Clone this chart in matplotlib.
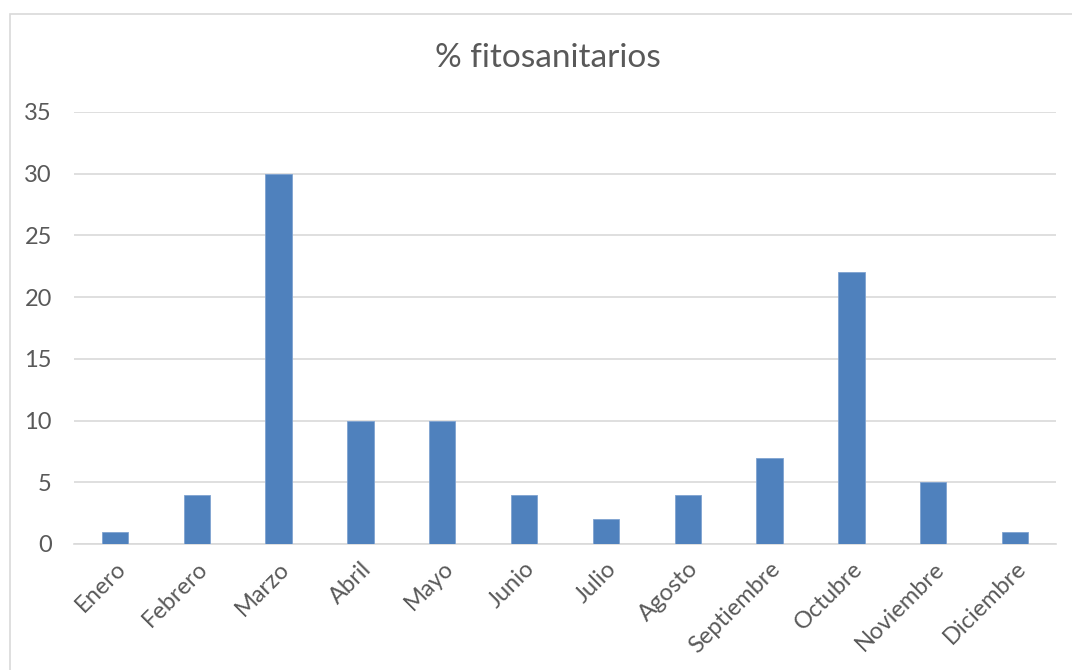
import matplotlib
matplotlib.use("Agg")
import matplotlib.pyplot as plt
from matplotlib.patches import Rectangle
import numpy as np

plt.rcParams['font.family'] = ['Lato', 'DejaVu Sans']

meses = ["Enero", "Febrero", "Marzo", "Abril", "Mayo", "Junio", "Julio",
         "Agosto", "Septiembre", "Octubre", "Noviembre", "Diciembre"]
valores = [1, 4, 30, 10, 10, 4, 2, 4, 7, 22, 5, 1]
yticks = [0, 5, 10, 15, 20, 25, 30, 35]

gris = "#595959"
fig = plt.figure(figsize=(10.72, 6.7), dpi=100)
# borde del area del grafico (solo se ven izquierda y arriba)
fig.patches.append(Rectangle((10 / 1072, -0.1), 1.2, 1 - 14 / 670 + 0.1,
                             transform=fig.transFigure, fill=False,
                             edgecolor="#D9D9D9", linewidth=1.2))

ax = fig.add_axes([74 / 1072, 1 - 544 / 670, (1056 - 74) / 1072, (544 - 112) / 670])
x = np.arange(len(meses))
ax.bar(x, valores, width=0.32, color="#4F81BD", edgecolor="#7FA3D1",
       linewidth=0.6, zorder=3)
ax.set_xlim(-0.5, len(meses) - 0.5)
ax.set_ylim(0, 35)
ax.set_yticks(yticks)
ax.yaxis.grid(True, color="#D9D9D9", linewidth=1.2, zorder=0)
for s in ["top", "right", "left"]:
    ax.spines[s].set_visible(False)
ax.spines["bottom"].set_color("#D9D9D9")
ax.spines["bottom"].set_linewidth(1.2)
ax.tick_params(axis="both", length=0, colors=gris, labelsize=17)
ax.tick_params(axis="y", pad=16)
ax.set_xticks(x)
ax.set_xticklabels(meses, rotation=45, ha="right", va="top",
                   rotation_mode="anchor")
ax.tick_params(axis="x", pad=10)

fig.text(548 / 1072, 1 - 58 / 670, "% fitosanitarios", ha="center",
         va="center", fontsize=24, color=gris)

fig.savefig("out.png", dpi=100)
